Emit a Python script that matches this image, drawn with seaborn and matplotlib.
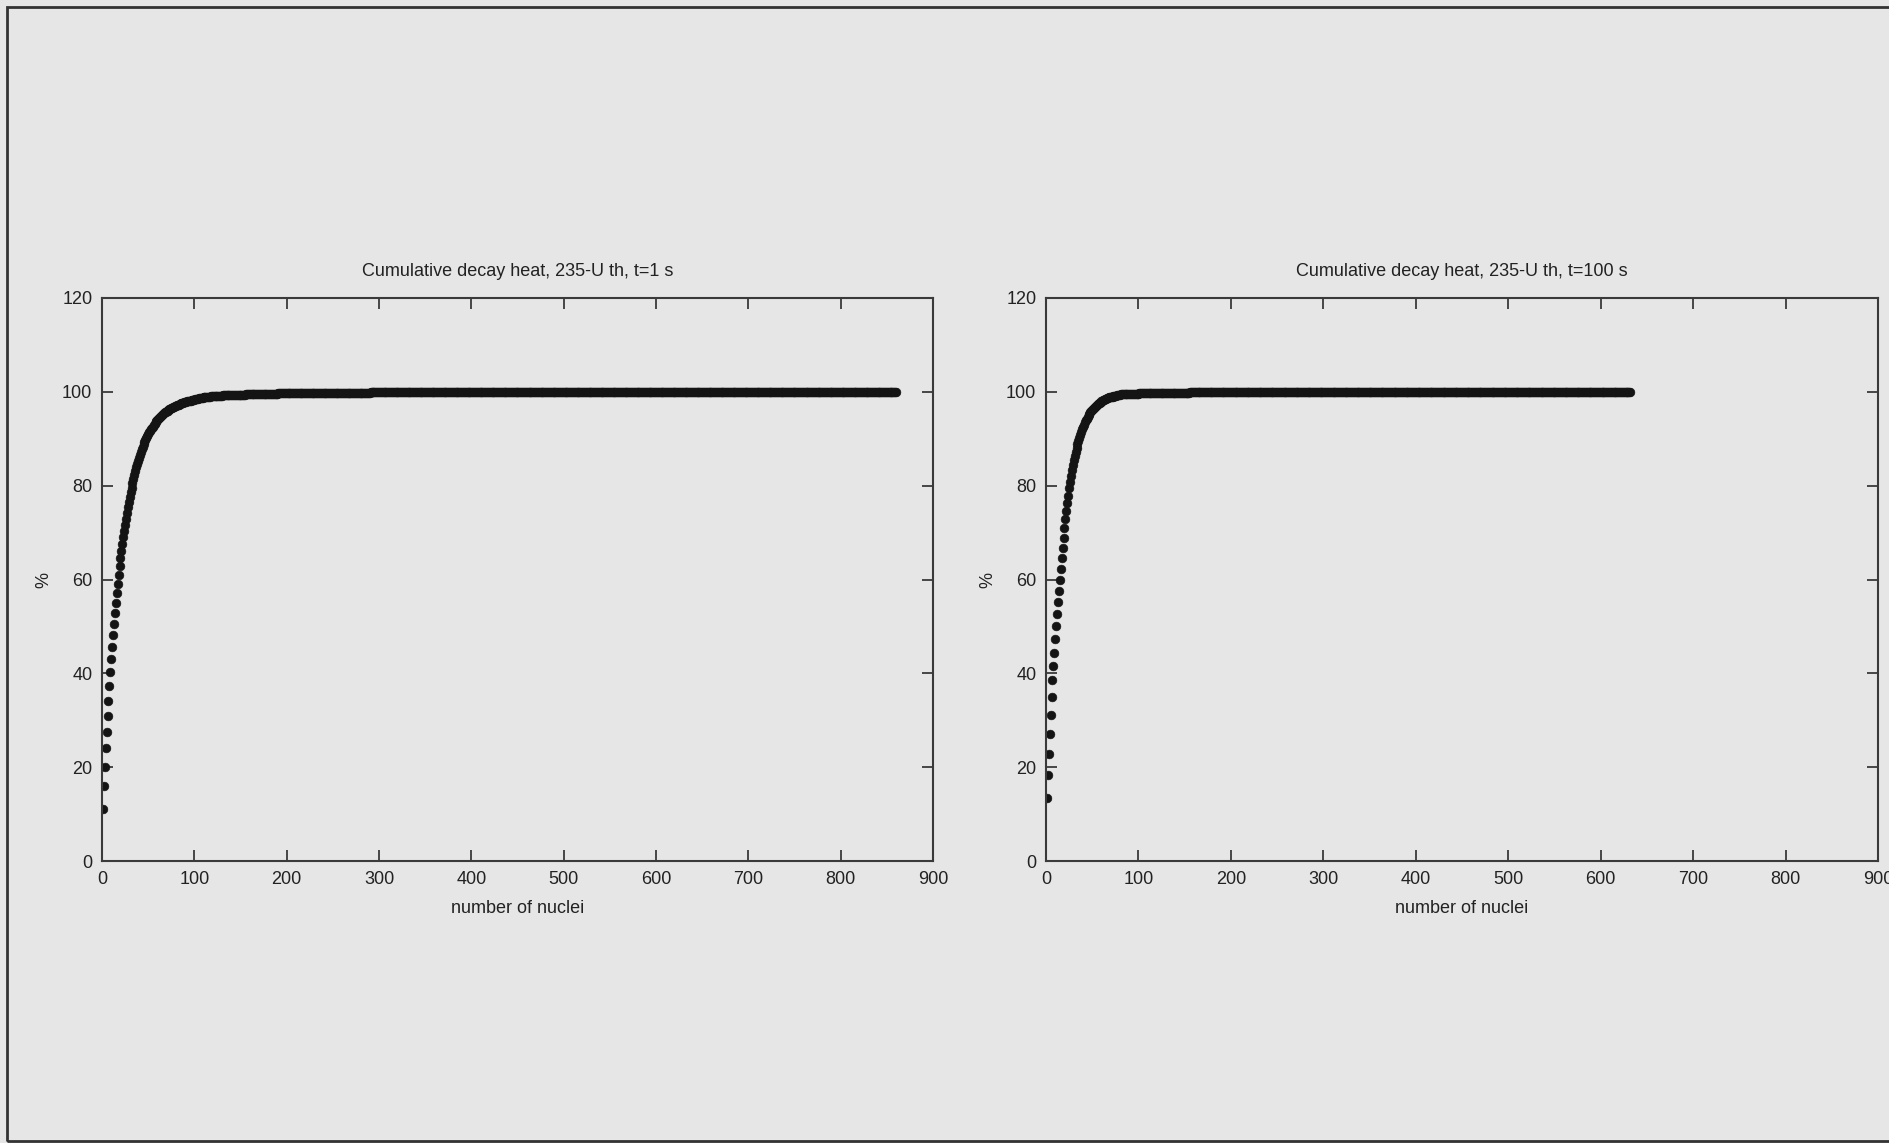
import numpy as np
import pandas as pd
import matplotlib
matplotlib.use("Agg")
import matplotlib.pyplot as plt
import seaborn as sns
from matplotlib.patches import Rectangle

# ---------------- data ----------------
titles = ["Cumulative decay heat, 235-U th, t=1 s",
          "Cumulative decay heat, 235-U th, t=100 s"]
x_label = "number of nuclei"
y_label = "%"
x_ticks = [0, 100, 200, 300, 400, 500, 600, 700, 800, 900]
y_ticks = [0, 20, 40, 60, 80, 100, 120]

# t = 1 s : cumulative % for nuclei 1..120, then plateau runs (value, count)
t1_rise = [11.0, 16.0, 20.0, 24.0, 27.6, 31.0, 34.2, 37.3, 40.2, 43.0,
           45.6, 48.1, 50.5, 52.8, 55.0, 57.1, 59.1, 61.0, 62.8, 64.5,
           66.1, 67.6, 69.0, 70.4, 71.7, 73.0, 74.2, 75.4, 76.5, 77.6,
           78.6, 79.6, 80.5, 81.4, 82.3, 83.1, 83.9, 84.6, 85.3, 86.0,
           86.6, 87.2, 87.8, 88.3, 88.8, 89.3, 89.8, 90.2, 90.6, 91.0,
           91.4, 91.7, 92.0, 92.3, 92.6, 92.9, 93.2, 93.5, 93.7, 94.0,
           94.2, 94.4, 94.6, 94.8, 95.0, 95.2, 95.4, 95.6, 95.7, 95.9,
           96.0, 96.1, 96.3, 96.4, 96.5, 96.6, 96.7, 96.8, 96.9, 97.0,
           97.1, 97.2, 97.3, 97.4, 97.5, 97.55, 97.6, 97.7, 97.75, 97.8,
           97.9, 97.95, 98.0, 98.05, 98.1, 98.15, 98.2, 98.25, 98.3, 98.35,
           98.4, 98.45, 98.5, 98.55, 98.6, 98.65, 98.7, 98.72, 98.75, 98.8,
           98.82, 98.85, 98.9, 98.92, 98.95, 98.98, 99.0, 99.03, 99.06, 99.1]
t1_plateau = [(99.15, 10), (99.25, 10), (99.35, 15), (99.45, 15), (99.55, 20),
              (99.65, 25), (99.75, 35), (99.85, 40), (99.95, 40), (100.0, 530)]

# t = 100 s : cumulative % for nuclei 1..80, then plateau runs (value, count)
t100_rise = [13.5, 18.4, 22.9, 27.1, 31.2, 34.9, 38.6, 41.5, 44.4, 47.3,
             50.1, 52.7, 55.2, 57.6, 60.0, 62.3, 64.6, 66.8, 68.9, 70.9,
             72.8, 74.6, 76.3, 77.9, 79.4, 80.8, 82.1, 83.3, 84.4, 85.4,
             86.3, 87.2, 88.0, 88.8, 89.5, 90.2, 90.8, 91.4, 92.0, 92.5,
             93.0, 93.5, 93.9, 94.3, 94.7, 95.0, 95.3, 95.6, 95.9, 96.2,
             96.4, 96.6, 96.8, 97.0, 97.2, 97.4, 97.6, 97.7, 97.85, 98.0,
             98.1, 98.2, 98.3, 98.4, 98.5, 98.6, 98.7, 98.8, 98.85, 98.9,
             98.95, 99.0, 99.05, 99.1, 99.15, 99.2, 99.25, 99.3, 99.35, 99.4]
t100_plateau = [(99.45, 10), (99.55, 10), (99.65, 15), (99.75, 20),
                (99.85, 20), (99.95, 20), (100.0, 457)]


def expand(rise, plateau):
    vals = list(rise)
    for v, c in plateau:
        vals.extend([v] * c)
    return pd.DataFrame({"n": np.arange(1, len(vals) + 1), "pct": vals})


frames = [expand(t1_rise, t1_plateau), expand(t100_rise, t100_plateau)]

# ---------------- styling ----------------
W, H = 1890, 1143
BG = "#e6e6e6"
INK = "#222222"
sns.set_style("ticks")
plt.rcParams["font.family"] = ["Liberation Sans", "DejaVu Sans"]
plt.rcParams.update({
    "axes.edgecolor": "#3a3a3a",
    "axes.linewidth": 1.5,
    "xtick.color": "#3a3a3a",
    "ytick.color": "#3a3a3a",
    "xtick.labelcolor": INK,
    "ytick.labelcolor": INK,
    "text.color": INK,
    "axes.labelcolor": INK,
})

fig = plt.figure(figsize=(W / 100, H / 100), dpi=100, facecolor=BG)

# outer frame of the scanned page
fig.patches.append(Rectangle((7 / W, 1 - 1141 / H), 2.0, (1141 - 7) / H,
                             transform=fig.transFigure, fill=False,
                             edgecolor="#333333", linewidth=2.0, zorder=0))

FS = 13
boxes = [(102, 298, 933, 861), (1046, 298, 1878, 861)]
for (x0, y0, x1, y1), df, title in zip(boxes, frames, titles):
    ax = fig.add_axes([x0 / W, 1 - y1 / H, (x1 - x0) / W, (y1 - y0) / H])
    ax.set_facecolor("none")
    sns.scatterplot(data=df, x="n", y="pct", ax=ax, color="#141414",
                    s=40, edgecolor="#141414", linewidth=0.4, legend=False)
    ax.set_xlim(0, 900)
    ax.set_ylim(0, 120)
    ax.set_xticks(x_ticks)
    ax.set_yticks(y_ticks)
    ax.tick_params(direction="in", length=8, width=1.3, top=True, right=True,
                   labelsize=FS, pad=7)
    for sp in ax.spines.values():
        sp.set_visible(True)
    ax.set_title(title, fontsize=FS, pad=16)
    ax.set_xlabel(x_label, fontsize=FS, labelpad=9)
    ax.set_ylabel(y_label, fontsize=FS, labelpad=7)

fig.savefig("out.png", dpi=100, facecolor=BG)
